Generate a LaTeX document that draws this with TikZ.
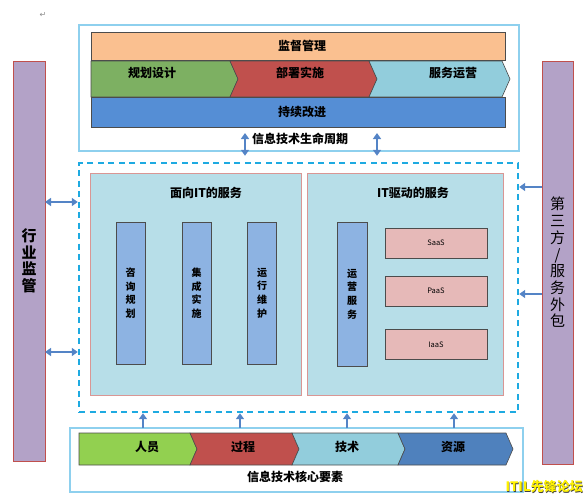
\documentclass[tikz,border=0pt]{standalone}
\usepackage{fontspec}
\newfontfamily\cjk{Noto Sans CJK SC}
\newfontfamily\symfont{DejaVu Sans}
\usetikzlibrary{arrows.meta, positioning, calc}
\definecolor{frameblue}{RGB}{142,208,238}
\definecolor{dashblue}{RGB}{30,170,225}
\definecolor{arrowblue}{RGB}{84,132,198}
\definecolor{peach}{RGB}{250,192,144}
\definecolor{lifegreen}{RGB}{125,176,98}
\definecolor{lifered}{RGB}{192,80,77}
\definecolor{lifeblue}{RGB}{146,205,220}
\definecolor{improveblue}{RGB}{85,142,213}
\definecolor{sidepurple}{RGB}{179,162,199}
\definecolor{sidered}{RGB}{192,80,77}
\definecolor{panelbg}{RGB}{183,222,232}
\definecolor{panelborder}{RGB}{217,150,148}
\definecolor{barblue}{RGB}{141,179,226}
\definecolor{cloudpink}{RGB}{230,185,184}
\definecolor{coregreen}{RGB}{146,208,80}
\definecolor{coreblue}{RGB}{79,129,189}

\begin{document}
\begin{tikzpicture}[
    x=1pt, y=-1pt,
    frame/.style = {draw=frameblue, line width=1.2pt},
    band/.style = {draw=black!70, line width=0.6pt, minimum width=414pt, inner sep=0pt},
    chev/.style = {draw=black!70, line width=0.6pt},
    side/.style = {draw=sidered, fill=sidepurple, line width=0.8pt, inner sep=0pt,
      align=center, font=\cjk\bfseries\fontsize{15}{16.5}\selectfont},
    panel/.style = {draw=panelborder, fill=panelbg, line width=0.8pt, inner sep=0pt},
    vbar/.style = {draw=black!70, fill=barblue, line width=0.8pt, minimum width=29pt,
      minimum height=142pt, inner sep=0pt, align=center,
      font=\cjk\bfseries\fontsize{10}{13.6}\selectfont},
    cloud/.style = {draw=black!70, fill=cloudpink, line width=0.8pt, minimum width=102pt,
      minimum height=30pt, inner sep=0pt, font=\cjk\fontsize{7.5}{9}\selectfont},
    title/.style = {font=\cjk\bfseries\fontsize{12}{14}\selectfont, inner sep=1pt},
    dbl/.style = {{Triangle[width=8pt,length=6pt]}-{Triangle[width=8pt,length=6pt]},
      line width=2pt, arrowblue},
    arr/.style = {-{Triangle[width=8pt,length=6pt]}, line width=2pt, arrowblue},
  ]
    \useasboundingbox (0,0) rectangle (583,498);
    \node[text=black!45, font=\symfont\fontsize{8}{9}\selectfont] (mark) at (43,15) {↵};

    % Lifecycle frame
    \node[frame, minimum width=440pt, minimum height=126pt, inner sep=0pt] (life) at (299,88) {};
    \node[band, fill=peach, minimum height=28pt] (supv) at (298,46) {};
    \node[title] (supvlbl) at (302,46) {监督管理};
    \foreach \xl/\xr/\nl/\tx/\col/\txt/\nm in {91/230/0/152/lifegreen/规划设计/plan,
        230/369/8/300/lifered/部署实施/deploy, 369/502/8/453/lifeblue/服务运营/operate} {
      \filldraw[chev, fill=\col] (\xl,61) -- (\xr,61) -- (\xr+8,79) -- (\xr,97)
        -- (\xl,97) -- (\xl+\nl,79) -- cycle;
      \node[title] (\nm) at (\tx,73) {\txt};
    }
    \node[band, fill=improveblue, minimum height=30pt] (improve) at (298,112) {};
    \node[title] (improvelbl) at (302,112) {持续改进};
    \node[title] (lifelbl) at (300,139) {信息技术生命周期};

    % Side bars
    \node[side, minimum width=32pt, minimum height=400pt] (lbar) at (29,261) {行\\业\\监\\管};
    \node[side, minimum width=31pt, minimum height=403pt, font=\cjk\fontsize{15}{16.7}\selectfont]
      (rbar) at (557.5,262.5) {第\\三\\方\\/\\服\\务\\外\\包};

    % Service core
    \node[draw=dashblue, line width=2.4pt, dash pattern=on 6pt off 4.5pt,
      minimum width=439pt, minimum height=249pt, inner sep=0pt] (core) at (298.5,287.5) {};
    \node[panel, minimum width=211pt, minimum height=222pt] (itface) at (195.5,284) {};
    \node[panel, minimum width=196pt, minimum height=222pt] (itdrive) at (405,284) {};
    \node[title] (facelbl) at (206,193) {面向IT的服务};
    \node[title] (drivelbl) at (413,193) {IT驱动的服务};

    \node[vbar] (consult) at (130.5,293) {咨\\询\\规\\划};
    \node[vbar] (integr)  at (196.5,293) {集\\成\\实\\施};
    \node[vbar] (runmt)   at (262,293)   {运\\行\\维\\护};
    \node[vbar, minimum width=30pt, minimum height=144pt] (opsvc) at (352,294) {运\\营\\服\\务};

    \node[cloud] (saas) at (436,243)   {SaaS};
    \node[cloud] (paas) at (436,291)   {PaaS};
    \node[cloud] (iaas) at (436,344.5) {IaaS};

    % Core elements frame
    \node[frame, minimum width=453pt, minimum height=64pt, inner sep=0pt] (elems) at (296.5,460) {};
    \foreach \xl/\xr/\nl/\tx/\col/\txt/\nm in {79/190/0/147/coregreen/人员/people,
        190/292/7/243/lifered/过程/process, 292/398/7/347/lifeblue/技术/tech,
        398/506/7/453/coreblue/资源/resource} {
      \filldraw[chev, fill=\col] (\xl,433) -- (\xr,433) -- (\xr+7,449) -- (\xr,465)
        -- (\xl,465) -- (\xl+\nl,449) -- cycle;
      \node[title] (\nm) at (\tx,447) {\txt};
    }
    \node[title] (elemlbl) at (295,477) {信息技术核心要素};

    % Arrows
    \coordinate (lt1) at (245,133);
    \coordinate (lt2) at (377,133);
    \draw[dbl] (lt1) -- ($(lt1 |- core.north)+(0,-6)$);
    \draw[dbl] (lt2) -- ($(lt2 |- core.north)+(0,-6)$);
    \coordinate (la1) at (45,202);
    \coordinate (la2) at (45,352);
    \draw[dbl] (la1) -- (la1 -| core.west);
    \draw[dbl] (la2) -- (la2 -| core.west);
    \coordinate (ra1) at (542,187);
    \coordinate (ra2) at (542,294);
    \draw[arr] (ra1) -- (ra1 -| core.east);
    \draw[arr] (ra2) -- (ra2 -| core.east);
    \foreach \ux in {143,240,347,454} {
      \coordinate (up\ux) at (\ux,428);
      \draw[arr] (up\ux) -- (up\ux |- core.south);
    }

    % Watermark
    \node[anchor=east, text=black!75, font=\cjk\bfseries\fontsize{13}{14}\selectfont,
      inner sep=0pt] (markshade) at (583.6,487.6) {ITIL先锋论坛};
    \node[anchor=east, text=yellow, font=\cjk\bfseries\fontsize{13}{14}\selectfont,
      inner sep=0pt] (markfg) at (583,487) {ITIL先锋论坛};
\end{tikzpicture}
\end{document}
